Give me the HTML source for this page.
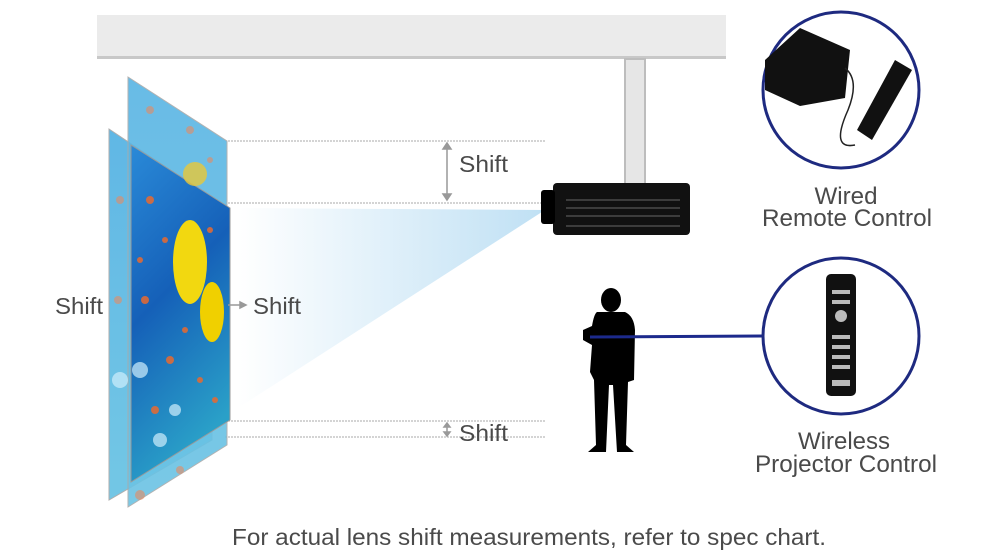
<!DOCTYPE html>
<html><head><meta charset="utf-8"><style>
html,body{margin:0;padding:0;background:#fff}
svg{display:block}
text{font-family:"Liberation Sans",sans-serif;fill:#4a4a4a}
</style></head><body>
<svg width="1000" height="555" viewBox="0 0 1000 555" xmlns="http://www.w3.org/2000/svg">
<defs>
<linearGradient id="beam" x1="0" x2="1" y1="0" y2="0">
<stop offset="0" stop-color="#fff"/><stop offset="1" stop-color="#bfe0f4"/></linearGradient>
<linearGradient id="sea" x1="0" x2="0.3" y1="0" y2="1">
<stop offset="0" stop-color="#2a8ad8"/><stop offset="0.5" stop-color="#1560b8"/><stop offset="1" stop-color="#2aa0c8"/></linearGradient>
<linearGradient id="seaL" x1="0" x2="0" y1="0" y2="1">
<stop offset="0" stop-color="#58b4e4"/><stop offset="1" stop-color="#6cc4e4"/></linearGradient>
</defs>
<rect x="97" y="15" width="629" height="43" fill="#ebebeb"/>
<rect x="97" y="56" width="629" height="3" fill="#c8c8c8"/>
<rect x="625" y="59" width="20" height="126" fill="#e6e6e6" stroke="#bdbdbd" stroke-width="2"/>
<g stroke="#aaa" stroke-width="1" stroke-dasharray="2,1">
<line x1="228" y1="141" x2="545" y2="141"/><line x1="228" y1="203" x2="545" y2="203"/>
<line x1="225" y1="421" x2="545" y2="421"/><line x1="225" y1="437" x2="545" y2="437"/>
</g>
<polygon points="238,208 545,210 238,408" fill="url(#beam)"/>
<polygon points="109,129 212,198 212,440 109,500" fill="url(#seaL)" opacity="0.95" stroke="#aaa"/>
<polygon points="128,77 227,141 227,445 128,507" fill="url(#seaL)" opacity="0.9" stroke="#aaa"/>
<g fill="#e88a60" opacity="0.6"><circle cx="150" cy="110" r="4"/><circle cx="190" cy="130" r="4"/><circle cx="210" cy="160" r="3"/><circle cx="120" cy="200" r="4"/><circle cx="118" cy="300" r="4"/><circle cx="140" cy="495" r="5"/><circle cx="180" cy="470" r="4"/></g>
<polygon points="131,145 230,208 230,420 131,482" fill="url(#sea)" stroke="#999"/>
<ellipse cx="190" cy="262" rx="17" ry="42" fill="#f2d810"/>
<ellipse cx="212" cy="312" rx="12" ry="30" fill="#f0d000"/>
<ellipse cx="195" cy="174" rx="12" ry="12" fill="#e8c838" opacity="0.8"/>
<g fill="#e86a30" opacity="0.85">
<circle cx="150" cy="200" r="4"/><circle cx="165" cy="240" r="3"/><circle cx="145" cy="300" r="4"/><circle cx="170" cy="360" r="4"/><circle cx="200" cy="380" r="3"/><circle cx="155" cy="410" r="4"/><circle cx="210" cy="230" r="3"/><circle cx="185" cy="330" r="3"/><circle cx="215" cy="400" r="3"/><circle cx="140" cy="260" r="3"/>
</g>
<g fill="#cfeefc" opacity="0.7"><circle cx="140" cy="370" r="8"/><circle cx="120" cy="380" r="8"/><circle cx="160" cy="440" r="7"/><circle cx="175" cy="410" r="6"/></g>
<g stroke="#999" stroke-width="1.5" fill="#999">
<line x1="447" y1="147" x2="447" y2="196"/>
<polygon points="443,149 451,149 447,143"/><polygon points="443,194 451,194 447,200"/>
<line x1="447" y1="425" x2="447" y2="434"/>
<polygon points="444,427 450,427 447,423"/><polygon points="444,432 450,432 447,436"/>
<line x1="228" y1="305" x2="242" y2="305"/><polygon points="240,302 240,308 246,305"/>
</g>
<text x="459" y="172" font-size="23" textLength="49" lengthAdjust="spacingAndGlyphs">Shift</text>
<text x="459" y="441" font-size="23" textLength="49" lengthAdjust="spacingAndGlyphs">Shift</text>
<text x="55" y="314" font-size="23" textLength="48" lengthAdjust="spacingAndGlyphs">Shift</text>
<text x="253" y="314" font-size="23" textLength="48" lengthAdjust="spacingAndGlyphs">Shift</text>
<rect x="553" y="183" width="137" height="52" rx="4" fill="#111"/>
<rect x="541" y="190" width="14" height="34" rx="3" fill="#000"/>
<g stroke="#666" stroke-width="1">
<line x1="566" y1="200" x2="680" y2="200"/><line x1="566" y1="208" x2="680" y2="208"/><line x1="566" y1="216" x2="680" y2="216"/><line x1="566" y1="226" x2="680" y2="226"/>
</g>
<g fill="#000">
<ellipse cx="611" cy="300" rx="10" ry="12"/>
<path d="M597,312 L625,312 Q634,316 635,330 L634,380 L628,382 L626,445 L634,452 L617,452 L613,385 L609,385 L606,452 L588,452 L596,445 L594,380 L590,372 L592,345 L583,340 L583,330 L592,326 Q594,314 597,312Z"/>
</g>
<line x1="590" y1="337" x2="762" y2="336" stroke="#1c2a8c" stroke-width="3"/>
<circle cx="841" cy="90" r="78" fill="#fff" stroke="#1e2a80" stroke-width="3"/>
<circle cx="841" cy="336" r="78" fill="#fff" stroke="#1e2a80" stroke-width="3"/>
<polygon points="765,60 800,28 850,50 845,98 800,106 765,90" fill="#111"/>
<path d="M845,68 Q860,80 848,110 Q830,150 855,145" stroke="#222" fill="none" stroke-width="1.5"/>
<polygon points="895,60 912,70 872,140 857,130" fill="#111"/>
<rect x="826" y="274" width="30" height="122" rx="5" fill="#111"/>
<g fill="#bbb"><rect x="832" y="290" width="18" height="4"/><rect x="832" y="300" width="18" height="4"/><circle cx="841" cy="316" r="6"/><rect x="832" y="335" width="18" height="4"/><rect x="832" y="345" width="18" height="4"/><rect x="832" y="355" width="18" height="4"/><rect x="832" y="365" width="18" height="4"/><rect x="832" y="380" width="18" height="6"/></g>
<text x="846" y="204" font-size="24" text-anchor="middle" textLength="63" lengthAdjust="spacingAndGlyphs">Wired</text>
<text x="847" y="226" font-size="24" text-anchor="middle" textLength="170" lengthAdjust="spacingAndGlyphs">Remote Control</text>
<text x="844" y="449" font-size="24" text-anchor="middle" textLength="92" lengthAdjust="spacingAndGlyphs">Wireless</text>
<text x="846" y="472" font-size="24" text-anchor="middle" textLength="182" lengthAdjust="spacingAndGlyphs">Projector Control</text>
<text x="529" y="545" font-size="23" text-anchor="middle" textLength="594" lengthAdjust="spacingAndGlyphs">For actual lens shift measurements, refer to spec chart.</text>
</svg>
</body></html>
